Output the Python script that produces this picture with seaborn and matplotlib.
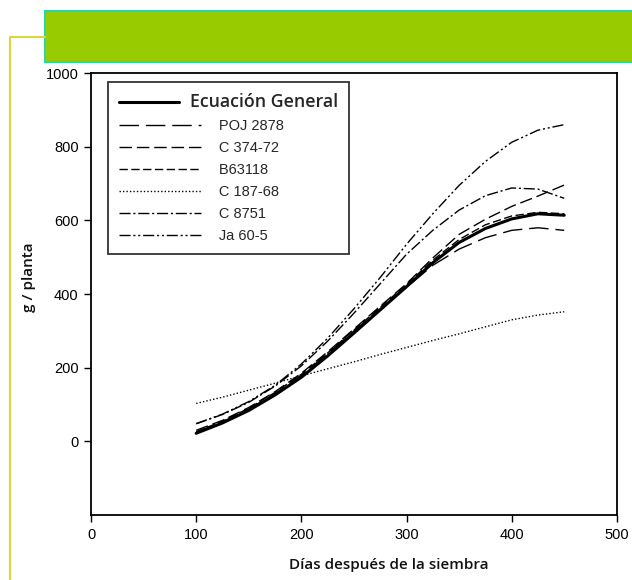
import matplotlib
matplotlib.use('Agg')
import pandas as pd
import seaborn as sns
from matplotlib import pyplot as plt
from matplotlib.legend_handler import HandlerLine2D
from matplotlib.patches import Rectangle
from matplotlib.lines import Line2D

# days after sowing
dias = [100, 125, 150, 175, 200, 225, 250, 275, 300, 325, 350, 375, 400, 425, 450]

# g / planta
general = [22, 50, 84, 126, 174, 232, 294, 357, 420, 485, 540, 578, 604, 618, 614]
poj_2878 = [25, 53, 88, 130, 180, 238, 300, 360, 418, 478, 522, 553, 573, 580, 573]
c_374_72 = [30, 57, 92, 135, 185, 243, 305, 367, 428, 498, 562, 603, 638, 666, 696]
b_63118 = [26, 55, 90, 133, 182, 240, 302, 364, 426, 492, 548, 588, 612, 622, 618]
c_187_68 = [103, 120, 139, 158, 178, 197, 216, 236, 255, 274, 292, 311, 330, 343, 352]
c_8751 = [48, 73, 106, 150, 205, 272, 348, 428, 508, 573, 628, 667, 688, 685, 660]
ja_60_5 = [48, 74, 108, 152, 210, 280, 360, 445, 535, 618, 695, 760, 812, 845, 860]

labels = ['Ecuación General', 'POJ 2878', 'C 374-72', 'B63118', 'C 187-68', 'C 8751', 'Ja 60-5']
series = [general, poj_2878, c_374_72, b_63118, c_187_68, c_8751, ja_60_5]
styles = ['-', (0, (14, 5)), (0, (9, 3.5)), (0, (6, 2.5)), (0, (1, 1.5)),
          (0, (8, 2, 1.5, 2)), (0, (8, 2, 1.5, 2, 1.5, 2))]
widths = [2.2, 1.0, 1.0, 1.0, 1.0, 1.0, 1.0]

sns.set_theme(style='ticks')
plt.rcParams['font.family'] = ['Liberation Sans', 'DejaVu Sans']

fig = plt.figure(figsize=(6.32, 5.8), dpi=100)
ax = fig.add_axes([0.144, 0.112, 0.832, 0.762])

for lab, vals, ls, lw in zip(labels, series, styles, widths):
    df = pd.DataFrame({'dias': dias, 'g': vals})
    sns.lineplot(data=df, x='dias', y='g', ax=ax, color='black', linestyle=ls,
                 linewidth=lw, label=lab, legend=False)

ax.set_xlim(0, 500)
ax.set_ylim(-200, 1000)
ax.set_xticks([0, 100, 200, 300, 400, 500])
ax.set_yticks([0, 200, 400, 600, 800, 1000])
ax.tick_params(direction='out', length=5, width=1, color='black', labelsize=10.5,
               labelcolor='black', pad=4)
for sp in ax.spines.values():
    sp.set_visible(True)
    sp.set_color('black')
    sp.set_linewidth(1.3)

ax.set_xlabel('Días después de la siembra', family='Open Sans', fontweight='semibold',
              fontsize=11, color='#111111')
ax.set_ylabel('g / planta', family='Open Sans', fontweight='semibold',
              fontsize=11, color='#111111', va='center')
ax.xaxis.set_label_coords(0.567, -0.097)
ax.yaxis.set_label_coords(-0.118, 0.538)


class StretchHandler(HandlerLine2D):
    def __init__(self, factor, **kw):
        super().__init__(**kw)
        self.factor = factor

    def create_artists(self, legend, orig_handle, xdescent, ydescent, width, height,
                       fontsize, trans):
        return super().create_artists(legend, orig_handle, xdescent, ydescent,
                                      width * self.factor, height, fontsize, trans)


handles = ax.get_lines()[:len(labels)]
leg_labels = [labels[0]] + ['       ' + l for l in labels[1:]]
hmap = {h: StretchHandler(1.0 if i == 0 else 1.38) for i, h in enumerate(handles)}
leg = ax.legend(handles, leg_labels, handler_map=hmap, loc='upper left',
                bbox_to_anchor=(0.032, 0.98), borderaxespad=0, fontsize=10.5,
                handlelength=4.1, handletextpad=0.75, labelspacing=0.55,
                borderpad=0.75, fancybox=False, framealpha=1)
leg.get_frame().set_edgecolor('#333333')
leg.get_frame().set_linewidth(1.3)
t0 = leg.get_texts()[0]
t0.set_fontfamily('Open Sans')
t0.set_fontweight('semibold')
t0.set_fontsize(12.8)

# green banner and yellow frame line
fig.patches.append(Rectangle((45 / 632, 1 - 62 / 580), 1.0, 51 / 580, transform=fig.transFigure,
                             facecolor='#99CC00', edgecolor='#2DD4A5', linewidth=1.5))
fig.lines.append(Line2D([10 / 632, 10 / 632, 45 / 632], [0, 1 - 37 / 580, 1 - 37 / 580],
                        transform=fig.transFigure, color='#D8D83A', linewidth=1.5))

fig.savefig('out.png', dpi=100)
